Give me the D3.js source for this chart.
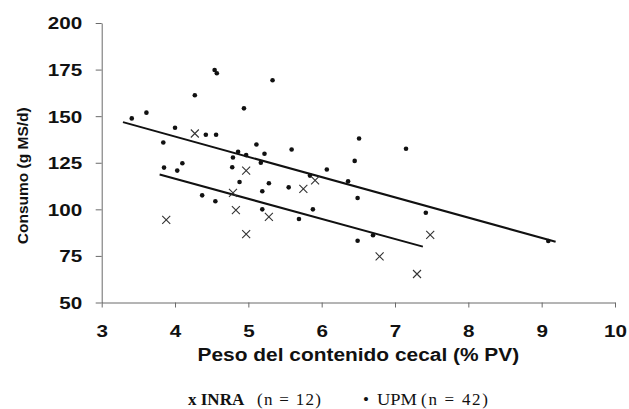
<!DOCTYPE html>
<html>
<head>
<meta charset="utf-8">
<script src="https://cdn.jsdelivr.net/npm/d3@7/dist/d3.min.js"></script>
<style>
  html, body { margin: 0; padding: 0; background: #fff; }
  svg { display: block; }
</style>
</head>
<body>
<svg id="chart" width="629" height="409"></svg>
<script>
// ---- Data ----
const upmX = [3.41,3.61,4.27,4.54,4.57,4.94,4.00,4.42,4.56,3.84,4.86,4.79,4.97,3.85,4.03,4.10,4.78,4.88,4.37,4.55,
              5.33,5.11,5.22,5.59,6.51,6.45,6.07,5.17,5.84,6.36,6.49,5.28,5.19,5.55,5.19,5.69,5.88,6.70,6.49,7.15,7.42,9.09];
const upmY = [148.8,151.9,161.2,174.8,173.0,154.2,143.8,140.0,140.0,135.9,130.9,127.8,129.1,122.4,120.8,124.7,122.6,114.7,107.5,104.3,
              169.3,134.8,129.8,132.1,138.0,126.0,121.4,125.0,118.1,115.1,106.1,114.0,109.7,111.8,100.0,94.8,100.0,86.1,83.1,132.5,98.2,83.0];
const inraX = [4.27,4.97,4.79,4.83,3.88,4.97,5.91,5.75,5.28,6.79,7.48,7.30];
const inraY = [140.7,120.8,108.8,99.6,94.4,86.7,115.6,111.0,96.0,74.7,86.3,65.3];
// fitted regression lines (end points as drawn)
const upmLineX = [3.29, 9.19];
const upmLineY = [146.8, 82.6];
const inraLineX = [3.79, 7.38];
const inraLineY = [118.7, 80.0];
// axes
const xTicks = [3,4,5,6,7,8,9,10];
const yTicks = [50,75,100,125,150,175,200];
const xTitle = "Peso del contenido cecal (% PV)";
const yTitle = "Consumo (g MS/d)";

// ---- Drawing ----
const svg = d3.select("#chart");
const x = d3.scaleLinear().domain([3, 10]).range([101.7, 615]);
const y = d3.scaleLinear().domain([50, 200]).range([302.5, 23]);

const axisColor = "#6a6a6a";
const sansBold = "'Liberation Sans', Arial, sans-serif";

// Y axis
const gy = svg.append("g").attr("transform", `translate(${x(3)},0)`)
  .call(d3.axisLeft(y).tickValues(yTicks).tickSize(6).tickSizeOuter(0).tickFormat(d3.format("d")));
gy.select(".domain").attr("stroke", axisColor);
gy.selectAll(".tick line").attr("stroke", axisColor);
gy.selectAll(".tick text")
  .attr("x", -15.6).attr("dy", "0.36em")
  .attr("transform", "scale(1.25,1)")
  .attr("fill", "#111")
  .style("font-family", sansBold).style("font-weight", "bold").style("font-size", "16.5px");

// X axis
const gx = svg.append("g").attr("transform", `translate(0,${y(50)})`)
  .call(d3.axisBottom(x).tickValues(xTicks).tickSize(5).tickSizeOuter(0).tickFormat(d3.format("d")));
gx.select(".domain").attr("stroke", axisColor);
gx.selectAll(".tick line").attr("stroke", axisColor);
gx.selectAll(".tick text")
  .attr("y", 34.5).attr("dy", 0)
  .attr("transform", "scale(1.25,1)")
  .attr("fill", "#111")
  .style("font-family", sansBold).style("font-weight", "bold").style("font-size", "16.5px");

// Axis titles
svg.append("text")
  .attr("transform", `translate(${(x(3) + x(10)) / 2},361) scale(1.1,1)`)
  .attr("text-anchor", "middle")
  .attr("fill", "#111")
  .style("font-family", sansBold).style("font-weight", "bold").style("font-size", "19px")
  .text(xTitle);

svg.append("text")
  .attr("transform", `translate(28,${y(118)}) rotate(-90)`)
  .attr("text-anchor", "middle")
  .attr("fill", "#111")
  .style("font-family", sansBold).style("font-weight", "bold").style("font-size", "15.5px")
  .text(yTitle);

// Regression lines
const line = d3.line().x(d => x(d[0])).y(d => y(d[1]));
svg.append("path").datum(d3.zip(upmLineX, upmLineY))
  .attr("d", line).attr("fill", "none").attr("stroke", "#111").attr("stroke-width", 2);
svg.append("path").datum(d3.zip(inraLineX, inraLineY))
  .attr("d", line).attr("fill", "none").attr("stroke", "#111").attr("stroke-width", 2);

// UPM points
svg.append("g").selectAll("circle").data(d3.zip(upmX, upmY)).join("circle")
  .attr("cx", d => x(d[0])).attr("cy", d => y(d[1])).attr("r", 2.3).attr("fill", "#111");

// INRA crosses
svg.append("g").selectAll("path").data(d3.zip(inraX, inraY)).join("path")
  .attr("transform", d => `translate(${x(d[0])},${y(d[1])})`)
  .attr("d", "M-4,-4L4,4M-4,4L4,-4")
  .attr("fill", "none").attr("stroke", "#333").attr("stroke-width", 1.1);

// Legend
const serif = "'Liberation Serif', 'Times New Roman', serif";
const leg = svg.append("g").style("font-family", serif).style("font-size", "17px").attr("fill", "#111");
leg.append("text").attr("x", 188).attr("y", 405).style("font-weight", "bold").text("x INRA");
leg.append("text").attr("x", 257).attr("y", 405).attr("textLength", 64).attr("lengthAdjust", "spacing").text("(n = 12)");
leg.append("text").attr("x", 363).attr("y", 405).text("•");
leg.append("text").attr("x", 377).attr("y", 405).attr("textLength", 40).attr("lengthAdjust", "spacingAndGlyphs").text("UPM");
leg.append("text").attr("x", 421).attr("y", 405).attr("textLength", 67).attr("lengthAdjust", "spacing").text("(n = 42)");
</script>
</body>
</html>
